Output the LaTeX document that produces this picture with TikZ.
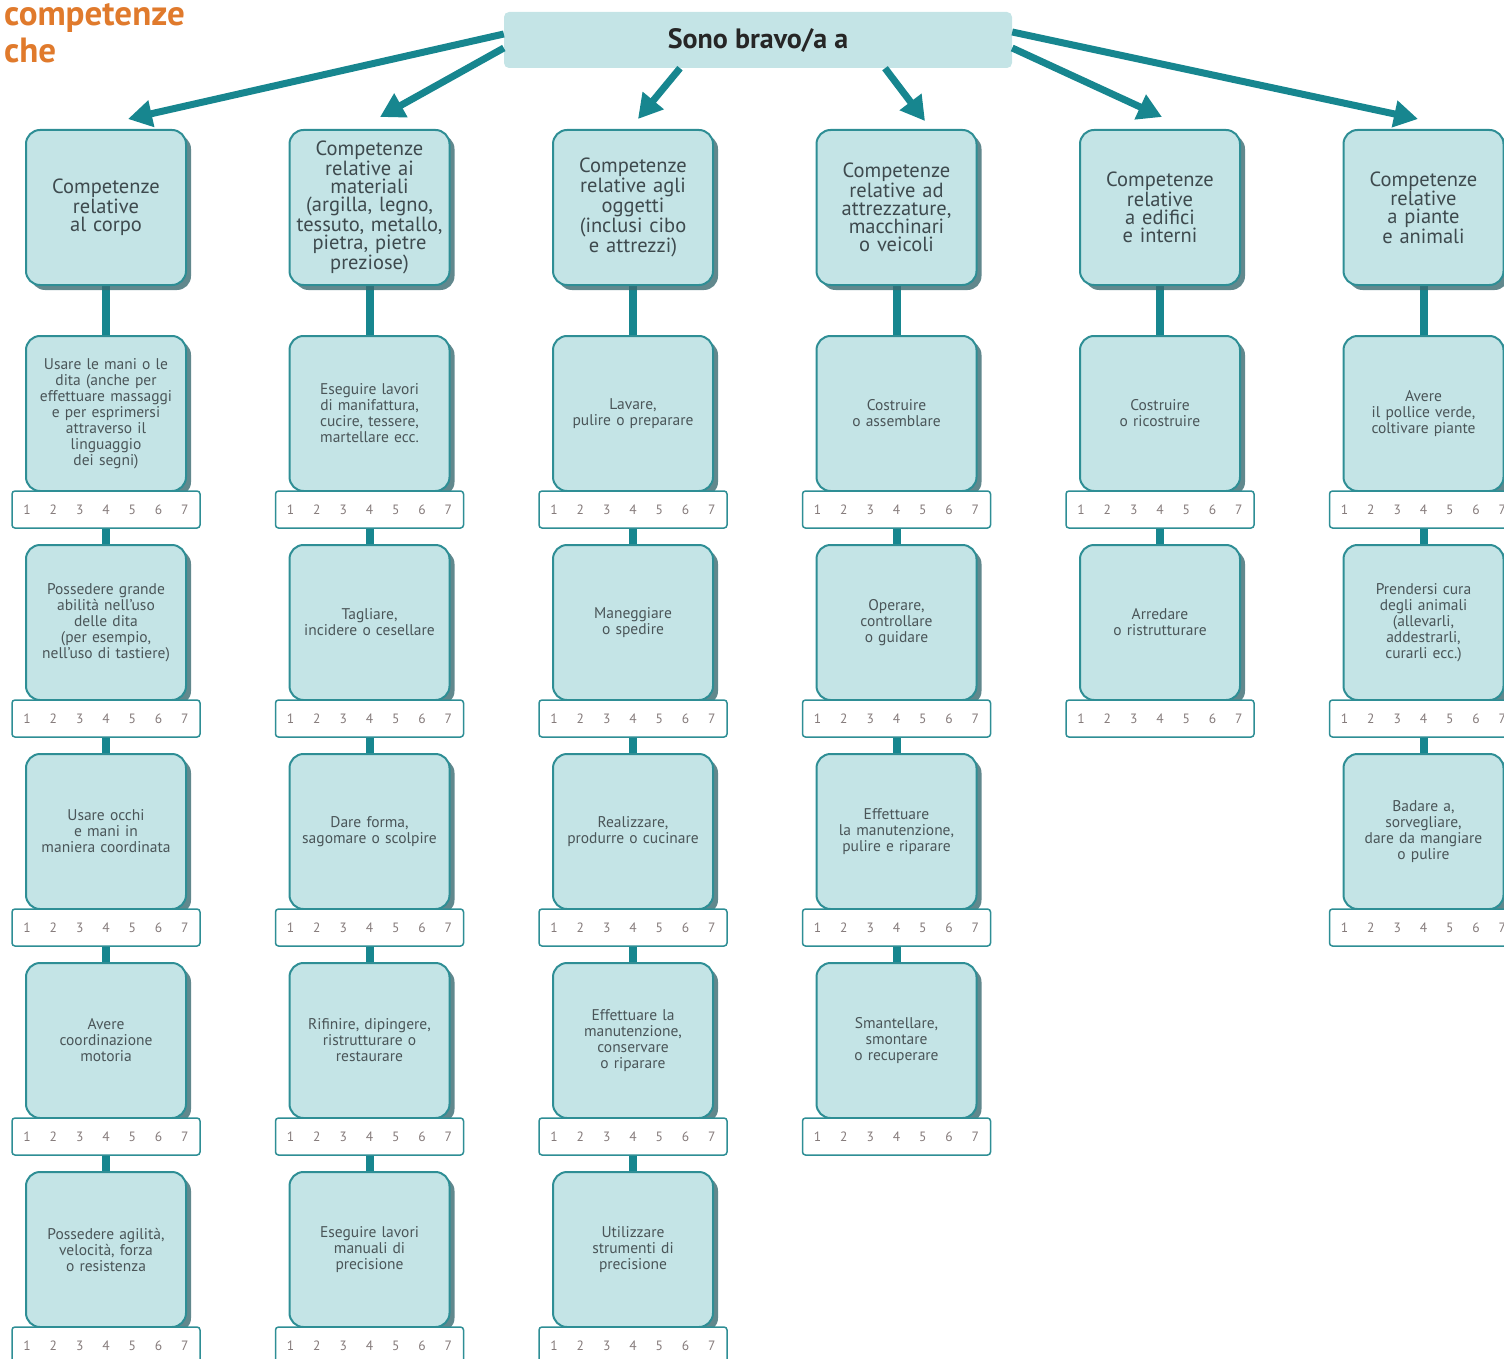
\documentclass[tikz,border=0pt]{standalone}
\usepackage{fontspec}
\setmainfont{PT Sans}
\usetikzlibrary{arrows.meta,shadows,calc,backgrounds}
\definecolor{cfill}{HTML}{C4E4E6}
\definecolor{bdr}{HTML}{2E8E95}
\definecolor{conc}{HTML}{17868F}
\definecolor{shadc}{HTML}{3A6A71}
\definecolor{txtc}{HTML}{3E4A4E}
\definecolor{itxt}{HTML}{4A5558}
\definecolor{numc}{HTML}{857B7B}
\definecolor{orng}{HTML}{E07A2C}
\newcommand\nums{\makebox[26.3pt]{1}\makebox[26.3pt]{2}\makebox[26.3pt]{3}\makebox[26.3pt]{4}\makebox[26.3pt]{5}\makebox[26.3pt]{6}\makebox[26.3pt]{7}}
\newcommand\mkitem[4]{%
  \node[itembox] (#1) at (#2,#3) {#4};
  \node[ratebox] (#1r) at ($(#1.center)+(0,96)$) {\nums};
}
\begin{document}
\begin{tikzpicture}[x=1pt,y=-1pt,
  boxbase/.style={draw=bdr, line width=2pt, fill=cfill, rounded corners=14pt,
    minimum width=160pt, minimum height=155pt, text width=154pt, align=center,
    inner sep=2pt, text=txtc,
    drop shadow={shadow xshift=5pt,shadow yshift=-5pt,fill=shadc,opacity=.8}},
  hdr/.style={boxbase, font=\fontsize{20.5}{18}\selectfont},
  itembox/.style={boxbase, text=itxt, font=\fontsize{15.5}{16}\selectfont},
  ratebox/.style={draw=bdr, line width=1.5pt, fill=white, rounded corners=3pt,
    minimum width=188pt, minimum height=37pt, inner sep=0pt, text=numc,
    font=\fontsize{13.5}{13.5}\selectfont},
  topbox/.style={fill=cfill, rounded corners=5pt, minimum width=508pt,
    minimum height=56pt, inner sep=0pt, text=black!85,
    font=\bfseries\fontsize{28}{28}\selectfont},
  arr/.style={line width=7pt, draw=conc, -{Triangle[length=24pt,width=26pt]}},
  vconn/.style={line width=8pt, draw=conc},
  ttl/.style={anchor=base west, inner sep=0pt, text=orng,
    font=\bfseries\fontsize{35}{35}\selectfont}
]
\useasboundingbox (0,0) rectangle (1504,1359);
\clip (0,0) rectangle (1504,1359);

\node[ttl] (t1) at (4,26) {competenze};
\node[ttl] (t2) at (4,63) {che};

\node[topbox] (top) at (758,40) {Sono bravo/a a};

% headers
\node[hdr] (h1) at (106,207.5) {Competenze\\relative\\al corpo};
\node[hdr] (h2) at (369.5,207.5) {Competenze\\relative ai\\materiali\\(argilla, legno,\\tessuto, metallo,\\pietra, pietre\\preziose)};
\node[hdr] (h3) at (633,207.5) {Competenze\\relative agli\\oggetti\\(inclusi cibo\\e attrezzi)};
\node[hdr] (h4) at (896.5,207.5) {Competenze\\relative ad\\attrezzature,\\macchinari\\o veicoli};
\node[hdr] (h5) at (1160,207.5) {Competenze\\relative\\a edifici\\e interni};
\node[hdr] (h6) at (1423.5,207.5) {Competenze\\relative\\a piante\\e animali};

% column 1
\mkitem{a1}{106}{413.5}{Usare le mani o le\\dita (anche per\\effettuare massaggi\\e per esprimersi\\attraverso il\\linguaggio\\dei segni)}
\mkitem{a2}{106}{622.5}{Possedere grande\\abilità nell'uso\\delle dita\\(per esempio,\\nell'uso di tastiere)}
\mkitem{a3}{106}{831.5}{Usare occhi\\e mani in\\maniera coordinata}
\mkitem{a4}{106}{1040.5}{Avere\\coordinazione\\motoria}
\mkitem{a5}{106}{1249.5}{Possedere agilità,\\velocità, forza\\o resistenza}
% column 2
\mkitem{b1}{369.5}{413.5}{Eseguire lavori\\di manifattura,\\cucire, tessere,\\martellare ecc.}
\mkitem{b2}{369.5}{622.5}{Tagliare,\\incidere o cesellare}
\mkitem{b3}{369.5}{831.5}{Dare forma,\\sagomare o scolpire}
\mkitem{b4}{369.5}{1040.5}{Rifinire, dipingere,\\ristrutturare o\\restaurare}
\mkitem{b5}{369.5}{1249.5}{Eseguire lavori\\manuali di\\precisione}
% column 3
\mkitem{c1}{633}{413.5}{Lavare,\\pulire o preparare}
\mkitem{c2}{633}{622.5}{Maneggiare\\o spedire}
\mkitem{c3}{633}{831.5}{Realizzare,\\produrre o cucinare}
\mkitem{c4}{633}{1040.5}{Effettuare la\\manutenzione,\\conservare\\o riparare}
\mkitem{c5}{633}{1249.5}{Utilizzare\\strumenti di\\precisione}
% column 4
\mkitem{d1}{896.5}{413.5}{Costruire\\o assemblare}
\mkitem{d2}{896.5}{622.5}{Operare,\\controllare\\o guidare}
\mkitem{d3}{896.5}{831.5}{Effettuare\\la manutenzione,\\pulire e riparare}
\mkitem{d4}{896.5}{1040.5}{Smantellare,\\smontare\\o recuperare}
% column 5
\mkitem{e1}{1160}{413.5}{Costruire\\o ricostruire}
\mkitem{e2}{1160}{622.5}{Arredare\\o ristrutturare}
% column 6
\mkitem{f1}{1423.5}{413.5}{Avere\\il pollice verde,\\coltivare piante}
\mkitem{f2}{1423.5}{622.5}{Prendersi cura\\degli animali\\(allevarli,\\addestrarli,\\curarli ecc.)}
\mkitem{f3}{1423.5}{831.5}{Badare a,\\sorvegliare,\\dare da mangiare\\o pulire}

\begin{scope}[on background layer]
  \foreach \h/\i in {h1/a1,h2/b1,h3/c1,h4/d1,h5/e1,h6/f1,
      a1r/a2,a2r/a3,a3r/a4,a4r/a5,
      b1r/b2,b2r/b3,b3r/b4,b4r/b5,
      c1r/c2,c2r/c3,c3r/c4,c4r/c5,
      d1r/d2,d2r/d3,d3r/d4,
      e1r/e2,
      f1r/f2,f2r/f3}
    \draw[vconn] (\h.south) -- (\i.north);
\end{scope}

% arrows from the top box
\draw[arr] ($(top.west)+(0,-6)$) -- ($(h1.north)+(22,-10)$);
\draw[arr] ($(top.west)+(0,8)$) -- ($(h2.north)+(10.5,-12)$);
\draw[arr] ($(top.south)+(-78,0)$) -- ($(h3.north)+(5,-10)$);
\draw[arr] ($(top.south)+(127,0)$) -- ($(h4.north)+(28.5,-8)$);
\draw[arr] ($(top.east)+(0,8)$) -- ($(h5.north)+(2,-12)$);
\draw[arr] ($(top.east)+(0,-8)$) -- ($(h6.north)+(-5.5,-10)$);
\end{tikzpicture}
\end{document}
